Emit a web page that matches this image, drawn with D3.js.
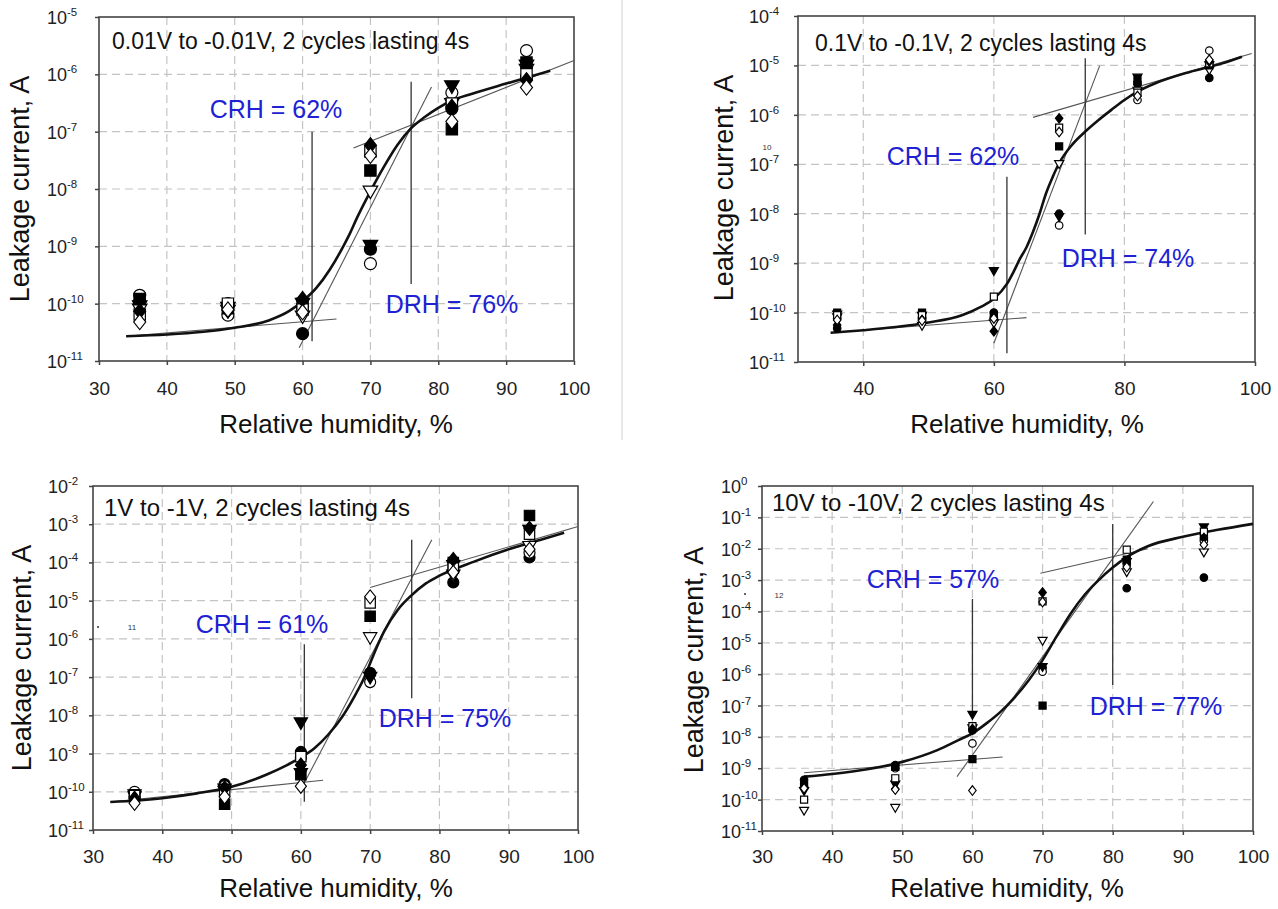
<!DOCTYPE html>
<html><head><meta charset="utf-8">
<script src="https://cdn.jsdelivr.net/npm/d3@7"></script>
<style>body{margin:0;background:#fff}svg{display:block}text{font-family:"Liberation Sans",Arial,sans-serif}</style>
</head><body><svg id="c" width="1278" height="909"></svg>
<script>
// ---------- data ----------
const rh = [36, 49, 60, 70, 82, 93];

const p1FilledCircle  = [1.1e-10, 1.0e-10, 3.0e-11, 8.9e-10, 2.5e-7, 8.9e-7];
const p1OpenCircle    = [1.4e-10, 6.3e-11, 8.9e-11, 5.0e-10, 4.8e-7, 2.6e-6];
const p1FilledTriDown = [9.5e-11, 8.9e-11, 1.05e-10, 1.07e-9, 6.5e-7, 1.5e-6];
const p1OpenTriDown   = [8.3e-11, 7.9e-11, 6.3e-11, 9.5e-9, 3.2e-7, 1.26e-6];
const p1FilledSquare  = [1.2e-10, 8.3e-11, 1.0e-10, 2.1e-8, 1.1e-7, 1.6e-6];
const p1OpenSquare    = [6.5e-11, 1.0e-10, 7.9e-11, 4.5e-8, 3.1e-7, 1.0e-6];
const p1FilledDiamond = [7.4e-11, 7.6e-11, 1.2e-10, 5.8e-8, 2.7e-7, 7.9e-7];
const p1OpenDiamond   = [4.8e-11, 7.9e-11, 7.1e-11, 3.8e-8, 1.5e-7, 5.9e-7];
const p1FitRH = [34,40,45,50,55,58,60,62,64,66,67,68,70,72,74,76,78,80,82,85,90,96.5];
const p1FitI  = [2.7e-11,2.9e-11,3.2e-11,3.8e-11,5.1e-11,7.4e-11,1.1e-10,1.86e-10,3.9e-10,1.0e-9,1.7e-9,3.1e-9,9.1e-9,2.45e-8,5.9e-8,1.15e-7,1.8e-7,2.6e-7,3.5e-7,4.6e-7,6.9e-7,1.15e-6];
const p1Lines = [[[34,2.7e-11],[65,5.4e-11]],[[59.5,1.7e-11],[79,6.0e-7]],[[67.5,5.2e-8],[100,1.74e-6]],[[61.4,1.0e-7],[61.4,2.2e-11]],[[76,7.4e-7],[76,2.2e-10]]];

const p2FilledCircle  = [4.8e-11, 7.9e-11, 1.0e-10, 1.0e-8, 4.2e-6, 5.6e-6];
const p2OpenCircle    = [7.6e-11, 7.6e-11, 7.9e-11, 5.8e-9, 2.0e-6, 2.0e-5];
const p2FilledTriDown = [9.5e-11, 8.9e-11, 7.2e-10, 8.9e-9, 5.9e-6, 1.05e-5];
const p2OpenTriDown   = [8.3e-11, 5.6e-11, 6.3e-11, 1.05e-7, 3.2e-6, 8.3e-6];
const p2FilledSquare  = [1.0e-10, 1.0e-10, 8.9e-11, 2.3e-7, 5.0e-6, 1.0e-5];
const p2OpenSquare    = [8.9e-11, 8.9e-11, 2.1e-10, 5.5e-7, 2.8e-6, 1.1e-5];
const p2FilledDiamond = [5.6e-11, 7.1e-11, 4.2e-11, 8.5e-7, 4.7e-6, 1.2e-5];
const p2OpenDiamond   = [7.1e-11, 6.9e-11, 7.6e-11, 4.5e-7, 2.4e-6, 1.3e-5];
const p2FitRH = [35,40,45,50,55,58,60,62,63,64,65,66,67,68,69,70,72,74,76,78,80,82,85,90,95,98];
const p2FitI  = [3.9e-11,4.4e-11,5.1e-11,6.3e-11,8.7e-11,1.3e-10,1.9e-10,3.8e-10,6.6e-10,1.23e-9,2.1e-9,4.3e-9,1.0e-8,2.6e-8,5.5e-8,1.05e-7,2.5e-7,4.6e-7,7.8e-7,1.26e-6,2.0e-6,2.95e-6,4.5e-6,7.4e-6,1.1e-5,1.5e-5];
const p2Lines = [[[35,3.9e-11],[65,7.9e-11]],[[60,2.4e-11],[76.2,9.8e-6]],[[66,8.9e-7],[99.5,1.74e-5]],[[62,5.6e-8],[62,1.5e-11]],[[74,1.4e-5],[74,3.8e-9]]];

const p3FilledCircle  = [7.4e-11, 1.6e-10, 1.1e-9, 1.3e-7, 3.0e-5, 1.35e-4];
const p3OpenCircle    = [1.0e-10, 1.4e-10, 7.9e-10, 7.4e-8, 6.3e-5, 1.8e-4];
const p3FilledTriDown = [7.9e-11, 1.26e-10, 6.8e-9, 1.05e-7, 8.9e-5, 7.4e-4];
const p3OpenTriDown   = [8.9e-11, 1.1e-10, 3.2e-10, 1.15e-6, 5.0e-5, 2.8e-4];
const p3FilledSquare  = [8.3e-11, 4.7e-11, 2.8e-10, 3.9e-6, 1.0e-4, 1.7e-3];
const p3OpenSquare    = [7.9e-11, 1.1e-10, 8.3e-10, 8.7e-6, 7.1e-5, 5.5e-4];
const p3FilledDiamond = [6.8e-11, 1.26e-10, 5.0e-10, 1.1e-7, 1.2e-4, 7.8e-4];
const p3OpenDiamond   = [5.0e-11, 7.4e-11, 1.4e-10, 1.26e-5, 5.5e-5, 2.2e-4];
const p3FitRH = [32.5,40,45,50,55,58,60,62,64,66,68,69,70,71,72,74,76,78,80,85,90,95,98];
const p3FitI  = [5.4e-11,6.8e-11,9.1e-11,1.35e-10,2.8e-10,5.0e-10,7.9e-10,1.4e-9,3.2e-9,9.3e-9,3.8e-8,8.5e-8,2.3e-7,6.3e-7,1.55e-6,5.8e-6,1.4e-5,2.8e-5,4.5e-5,1.05e-4,2.2e-4,4.1e-4,6.0e-4];
const p3Lines = [[[32.5,5.4e-11],[63.2,2.0e-10]],[[60.5,1.7e-10],[78.9,3.9e-4]],[[70,2.2e-5],[100,8.7e-4]],[[60.5,7.2e-7],[60.5,5.5e-11]],[[76,3.9e-4],[76,2.8e-8]]];

const p4FilledCircle  = [4.3e-10, 1.26e-9, 1.6e-8, 1.6e-6, 5.5e-4, 1.2e-3];
const p4OpenCircle    = [2.5e-10, 1.0e-9, 6.2e-9, 1.2e-6, 3.2e-3, 1.8e-2];
const p4FilledTriDown = [2.0e-10, 3.2e-10, 5.4e-8, 1.8e-6, 4.0e-3, 5.1e-2];
const p4OpenTriDown   = [4.7e-11, 5.8e-11, 2.0e-8, 1.23e-5, 1.9e-3, 8.1e-3];
const p4FilledSquare  = [2.8e-10, 1.1e-9, 1.95e-9, 1.0e-7, 4.5e-3, 2.5e-2];
const p4OpenSquare    = [1.0e-10, 4.8e-10, 2.2e-8, 2.1e-4, 9.3e-3, 3.5e-2];
const p4FilledDiamond = [2.4e-10, 2.2e-10, 1.8e-8, 4.0e-4, 3.5e-3, 2.2e-2];
const p4OpenDiamond   = [2.3e-10, 2.1e-10, 1.95e-10, 2.0e-4, 2.6e-3, 1.35e-2];
const p4FitRH = [36,40,45,50,55,58,60,62,64,66,68,70,72,74,76,78,80,82,85,90,95,100];
const p4FitI  = [5.4e-10,6.6e-10,9.3e-10,1.6e-9,3.8e-9,7.9e-9,1.3e-8,2.7e-8,6.3e-8,1.8e-7,6.3e-7,2.8e-6,1.6e-5,8.5e-5,3.4e-4,1.0e-3,2.5e-3,5.4e-3,1.2e-2,2.4e-2,4.0e-2,6.2e-2];
const p4Lines = [[[36,7.2e-10],[64.3,2.3e-9]],[[57.8,5.4e-10],[85.8,3.2e-1]],[[69.7,1.66e-3],[85,1.0e-2]],[[60,2.5e-4],[60,4.5e-8]],[[80,6.2e-2],[80,4.5e-7]]];

const xTicksFull = [30,40,50,60,70,80,90,100];
const xTicksEven = [40,60,80,100];
const titles = ["0.01V to -0.01V, 2 cycles lasting 4s","0.1V to -0.1V, 2 cycles lasting 4s","1V to -1V, 2 cycles lasting 4s","10V to -10V, 2 cycles lasting 4s"];
const crhLabels = ["CRH = 62%","CRH = 62%","CRH = 61%","CRH = 57%"];
const drhLabels = ["DRH = 76%","DRH = 74%","DRH = 75%","DRH = 77%"];

// ---------- layout ----------
const panels = [
 {L:99,R:574,T:17,B:361,yMaxExp:-5,xt:xTicksFull,ms:12,yLab:52,
  s:[p1FilledCircle,p1OpenCircle,p1FilledTriDown,p1OpenTriDown,p1FilledSquare,p1OpenSquare,p1FilledDiamond,p1OpenDiamond],
  fx:p1FitRH,fy:p1FitI,lines:p1Lines,yt:[20,189],xtl:[336,433],tickBase:395,
  title:[112,49,23],crh:[276,118],drh:[452,313]},
 {L:798,R:1255,T:16,B:362,yMaxExp:-4,xt:xTicksEven,ms:7.5,yLab:49,
  s:[p2FilledCircle,p2OpenCircle,p2FilledTriDown,p2OpenTriDown,p2FilledSquare,p2OpenSquare,p2FilledDiamond,p2OpenDiamond],
  fx:p2FitRH,fy:p2FitI,lines:p2Lines,yt:[724,188],xtl:[1027,433],tickBase:395,
  title:[815,51,23],crh:[953,165],drh:[1128,267]},
 {L:93,R:578,T:486,B:830,yMaxExp:-2,xt:xTicksFull,ms:11,yLab:45,
  s:[p3FilledCircle,p3OpenCircle,p3FilledTriDown,p3OpenTriDown,p3FilledSquare,p3OpenSquare,p3FilledDiamond,p3OpenDiamond],
  fx:p3FitRH,fy:p3FitI,lines:p3Lines,yt:[22,658],xtl:[336,897],tickBase:863,
  title:[104,516,24],crh:[262,633],drh:[445,727]},
 {L:762,R:1253,T:486,B:831,yMaxExp:0,xt:xTicksFull,ms:7.5,yLab:41,
  s:[p4FilledCircle,p4OpenCircle,p4FilledTriDown,p4OpenTriDown,p4FilledSquare,p4OpenSquare,p4FilledDiamond,p4OpenDiamond],
  fx:p4FitRH,fy:p4FitI,lines:p4Lines,yt:[694,660],xtl:[1007,897],tickBase:863,
  title:[772,511,24],crh:[933,588],drh:[1156,715]}
];

const markerDefs = [
 {t:d3.symbolCircle,fill:"#000",k:0.785,tf:""},
 {t:d3.symbolCircle,fill:"#fff",k:0.785,tf:""},
 {t:d3.symbolTriangle,fill:"#000",k:0.5,tf:" rotate(180)"},
 {t:d3.symbolTriangle,fill:"#fff",k:0.5,tf:" rotate(180)"},
 {t:d3.symbolSquare,fill:"#000",k:0.7,tf:""},
 {t:d3.symbolSquare,fill:"#fff",k:0.7,tf:""},
 {t:d3.symbolSquare,fill:"#000",k:0.55,tf:" scale(0.85,1.08) rotate(45)"},
 {t:d3.symbolSquare,fill:"#fff",k:0.55,tf:" scale(0.85,1.08) rotate(45)"}
];

const svg = d3.select("#c");
// faint separator line right of panel 1
svg.append("line").attr("x1",622).attr("x2",622).attr("y1",0).attr("y2",440).attr("stroke","#d0d0d0").attr("stroke-width",1);

panels.forEach((p,pi)=>{
  const g = svg.append("g");
  const x = d3.scaleLinear().domain([30,100]).range([p.L,p.R]);
  const y = d3.scaleLog().domain([1e-11, Math.pow(10,p.yMaxExp)]).range([p.B,p.T]);
  const decades = d3.range(-11, p.yMaxExp+1).map(e=>Math.pow(10,e));

  // grid
  g.selectAll(".hg").data(decades.slice(1,-1)).join("line")
    .attr("x1",p.L).attr("x2",p.R).attr("y1",d=>y(d)).attr("y2",d=>y(d))
    .attr("stroke","#c4c4c4").attr("stroke-width",1.2).attr("stroke-dasharray","8,5");
  g.selectAll(".vg").data(p.xt.filter(v=>v>30&&v<100)).join("line")
    .attr("x1",d=>x(d)).attr("x2",d=>x(d)).attr("y1",p.T).attr("y2",p.B)
    .attr("stroke","#c4c4c4").attr("stroke-width",1.2).attr("stroke-dasharray","8,5");

  // axes
  const xa = g.append("g").attr("transform",`translate(0,${p.B})`)
    .call(d3.axisBottom(x).tickValues(p.xt).tickSize(4).tickSizeOuter(0).tickFormat(d3.format("d")));
  xa.select(".domain").remove();
  xa.attr("font-size",null).attr("font-family",null);
  xa.selectAll(".tick line").attr("stroke","#444").attr("stroke-width",1.5);
  xa.selectAll("text").attr("y",p.tickBase-p.B).attr("dy",0).attr("font-size",19).attr("fill","#222");

  const ya = g.append("g").attr("transform",`translate(${p.L},0)`)
    .call(d3.axisLeft(y).tickValues(decades).tickSize(4).tickSizeOuter(0).tickFormat(()=>""));
  ya.select(".domain").remove();
  ya.attr("font-size",null).attr("font-family",null);
  ya.selectAll(".tick line").attr("stroke","#444").attr("stroke-width",1.5);
  ya.selectAll(".tick text").each(function(d){
    const t = d3.select(this);
    t.attr("x",-p.yLab).attr("dy",0).attr("y",6.5).attr("text-anchor","start").attr("fill","#222").attr("font-size",18);
    t.append("tspan").text("10");
    t.append("tspan").attr("dy",-8).attr("font-size",11.5).text(String(Math.round(Math.log10(d))));
  });

  // frame
  g.append("rect").attr("x",p.L).attr("y",p.T).attr("width",p.R-p.L).attr("height",p.B-p.T)
    .attr("fill","none").attr("stroke","#444").attr("stroke-width",1.6);

  // tangent and marker lines
  const ln = d3.line().x(d=>x(d[0])).y(d=>y(d[1]));
  g.selectAll(".tl").data(p.lines).join("path").attr("d",ln)
    .attr("fill","none").attr("stroke",(d,i)=>i<3?"#555":"#333").attr("stroke-width",(d,i)=>i<3?1.1:1.3);

  // fitted curve
  const fit = p.fx.map((v,i)=>[v,p.fy[i]]);
  g.append("path").datum(fit).attr("d",d3.line().x(d=>x(d[0])).y(d=>y(d[1])).curve(d3.curveMonotoneX))
    .attr("fill","none").attr("stroke","#111").attr("stroke-width",2.6);

  // markers
  p.s.forEach((arr,si)=>{
    const md = markerDefs[si];
    const sym = d3.symbol().type(md.t).size(md.k*p.ms*p.ms*(md.t===d3.symbolCircle?1:1.27));
    g.selectAll(".m"+si).data(arr.map((v,i)=>[rh[i],v])).join("path")
      .attr("d",sym).attr("transform",d=>`translate(${x(d[0])},${y(d[1])})${md.tf}`)
      .attr("fill",md.fill).attr("stroke","#000").attr("stroke-width",1.2);
  });

  // texts
  g.append("text").attr("x",p.title[0]).attr("y",p.title[1]).attr("font-size",p.title[2]).attr("fill","#111").text(titles[pi]);
  g.append("text").attr("x",p.crh[0]).attr("y",p.crh[1]).attr("text-anchor","middle").attr("font-size",25).attr("fill","#2121d4").text(crhLabels[pi]);
  g.append("text").attr("x",p.drh[0]).attr("y",p.drh[1]).attr("text-anchor","middle").attr("font-size",25).attr("fill","#2121d4").text(drhLabels[pi]);
  g.append("text").attr("transform",`translate(${p.yt[0]},${p.yt[1]}) rotate(-90)`).attr("text-anchor","middle").attr("dy","0.35em")
    .attr("font-size",27).attr("fill","#111").text("Leakage current, A");
  g.append("text").attr("x",p.xtl[0]).attr("y",p.xtl[1]).attr("text-anchor","middle").attr("font-size",26).attr("fill","#111").text("Relative humidity, %");
});

// small stray marks present in the original figure
const stray = [[767,150,"10"],[132,630,"11"],[779,598,"12"]];
svg.selectAll(".stray").data(stray).join("text").attr("x",d=>d[0]).attr("y",d=>d[1]).attr("font-size",8).attr("fill","#333").attr("text-anchor","middle").text(d=>d[2]);
svg.selectAll(".dot").data([[98,627],[745,594]]).join("circle").attr("cx",d=>d[0]).attr("cy",d=>d[1]).attr("r",1).attr("fill","#333");
</script></body></html>
